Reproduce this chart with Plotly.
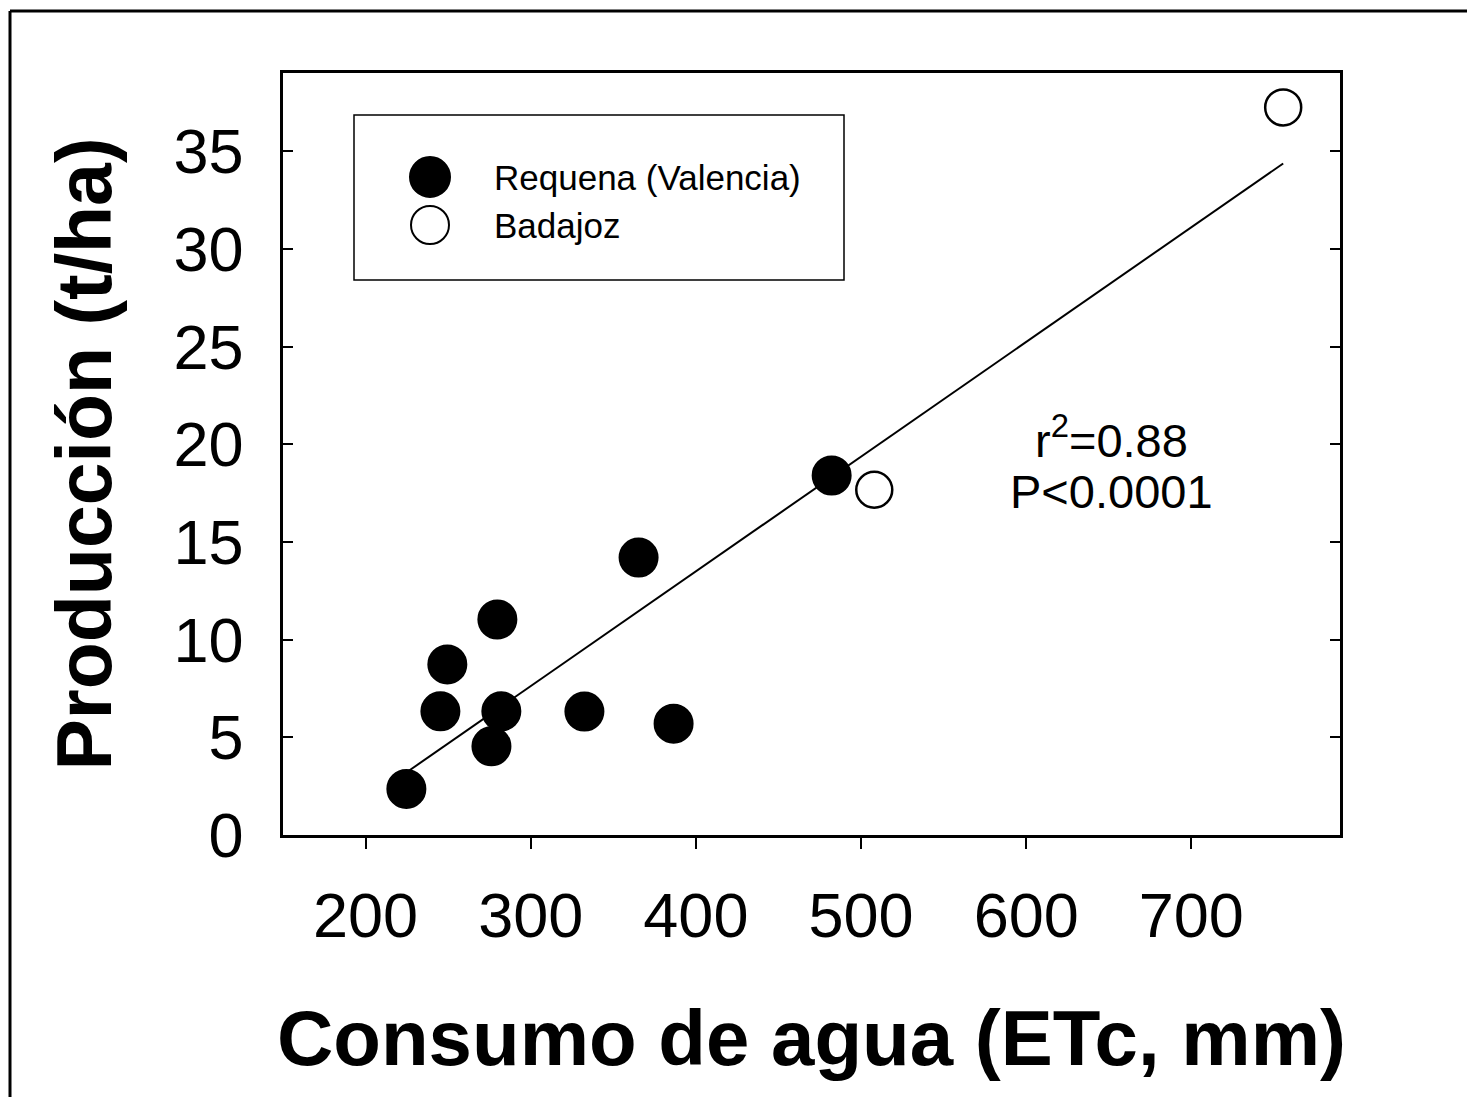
import plotly.graph_objects as go

# ---- data ----
requena_etc = [224.7, 245.3, 249.5, 276.2, 279.8, 282.2, 332.5, 365.3, 386.5, 482.2]
requena_prod = [2.36, 6.33, 8.73, 4.54, 11.03, 6.33, 6.32, 14.2, 5.7, 18.4]
badajoz_etc = [508.0, 755.6]
badajoz_prod = [17.67, 37.24]
fit_etc = [224.7, 755.6]
fit_prod = [3.2, 34.37]
x_ticks = [200, 300, 400, 500, 600, 700]
y_ticks = [0, 5, 10, 15, 20, 25, 30, 35]
stats_lines = ["r<sup>2</sup>=0.88", "P<0.0001"]
legend_names = ["Requena (Valencia)", "Badajoz"]

FONT = "Arial, 'Liberation Sans', sans-serif"
W, H = 1467, 1097
L, R, T, B = 283, 127, 73, 262
PW, PH = W - L - R, H - T - B


def px(xp):
    return (xp - L) / PW


def py(yp):
    return (H - B - yp) / PH


fig = go.Figure()
fig.add_trace(go.Scatter(x=fit_etc, y=fit_prod, mode="lines",
                         line=dict(color="black", width=2), showlegend=False))
fig.add_trace(go.Scatter(x=requena_etc, y=requena_prod, mode="markers", name=legend_names[0],
                         marker=dict(size=38, color="black", line=dict(color="black", width=2)),
                         showlegend=False))
fig.add_trace(go.Scatter(x=badajoz_etc, y=badajoz_prod, mode="markers", name=legend_names[1],
                         marker=dict(size=36, color="white", line=dict(color="black", width=2.5)),
                         showlegend=False))

shapes = []
# outer frame (left and top edges)
shapes.append(dict(type="line", xref="paper", yref="paper", x0=px(10), x1=px(10), y0=py(11), y1=py(1100),
                   line=dict(color="black", width=3)))
shapes.append(dict(type="line", xref="paper", yref="paper", x0=px(10), x1=px(1470), y0=py(11), y1=py(11),
                   line=dict(color="black", width=3)))
# legend box
shapes.append(dict(type="rect", xref="paper", yref="paper", x0=px(354), x1=px(844), y0=py(115), y1=py(280),
                   line=dict(color="black", width=1.5), fillcolor="white", layer="below"))
# legend symbols
legend_y = [177, 225]
sym_fill = ["black", "white"]
sym_d = [40, 38]
for yy, fc, d in zip(legend_y, sym_fill, sym_d):
    r = d / 2
    shapes.append(dict(type="circle", xref="paper", yref="paper", xsizemode="pixel", ysizemode="pixel",
                       xanchor=px(430), yanchor=py(yy), x0=-r, x1=r, y0=-r, y1=r,
                       fillcolor=fc, line=dict(color="black", width=2)))

annotations = []
for name, yy in zip(legend_names, legend_y):
    annotations.append(dict(xref="paper", yref="paper", x=px(492), y=py(yy), text=name, showarrow=False,
                            xanchor="left", yanchor="middle", font=dict(family=FONT, size=35, color="black")))
for txt, yy in zip(stats_lines, [437, 491]):
    annotations.append(dict(xref="paper", yref="paper", x=px(1111), y=py(yy), text=txt, showarrow=False,
                            xanchor="center", yanchor="middle", font=dict(family=FONT, size=47, color="black")))

fig.update_layout(
    width=W, height=H,
    margin=dict(l=L, r=R, t=T, b=B),
    paper_bgcolor="white", plot_bgcolor="white",
    showlegend=False,
    font=dict(family=FONT, color="black"),
    shapes=shapes, annotations=annotations,
    xaxis=dict(range=[150, 790], tickvals=x_ticks, ticks="outside", ticklen=11, tickwidth=2,
               tickcolor="black", showline=True, linecolor="black", linewidth=2.5, mirror=True,
               showgrid=False, zeroline=False, tickfont=dict(family=FONT, size=63, color="black"),
               ticklabelstandoff=13,
               title=dict(text="<b>Consumo de agua (ETc, mm)</b>", standoff=62,
                          font=dict(family=FONT, size=78, color="black"))),
    yaxis=dict(range=[0, 39], tickvals=y_ticks, ticks="inside", ticklen=10, tickwidth=2,
               tickcolor="black", showline=True, linecolor="black", linewidth=2.5, mirror="ticks",
               showgrid=False, zeroline=False, tickfont=dict(family=FONT, size=63, color="black"),
               ticklabelstandoff=24,
               title=dict(text="<b>Producción (t/ha)</b>", standoff=37,
                          font=dict(family=FONT, size=77, color="black"))),
)

fig.write_html("out.html", config={"displayModeBar": False},
               post_script="document.body.style.margin='0';document.body.style.overflow='hidden';")
